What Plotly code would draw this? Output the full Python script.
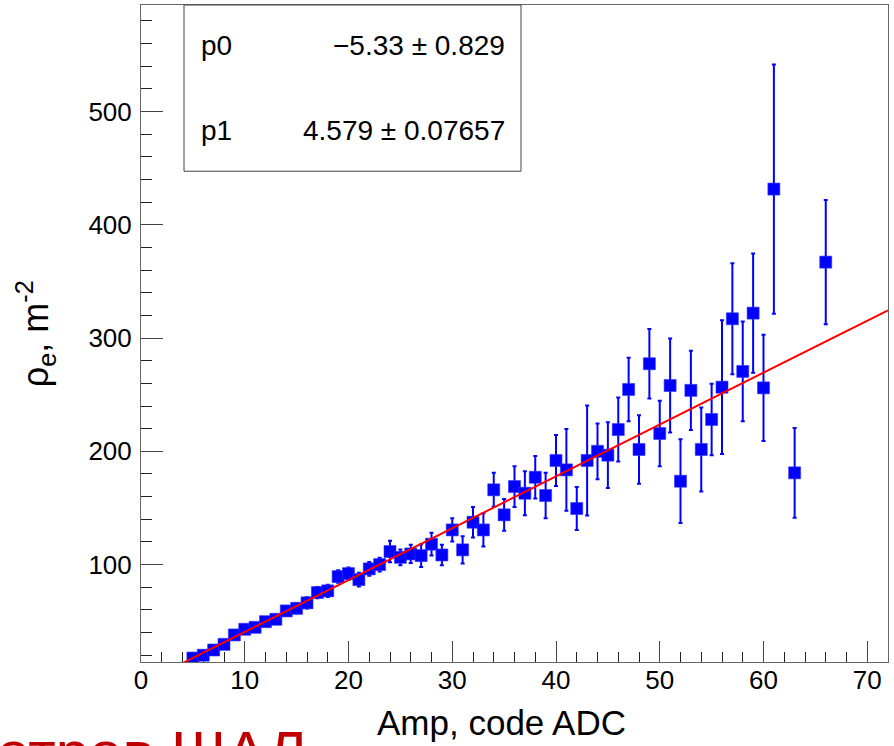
import plotly.graph_objects as go

# Data
amp = [5, 6, 7, 8, 9, 10, 11, 12, 13, 14, 15, 16, 17, 18, 19, 20, 21, 22, 23,
       24, 25, 26, 27, 28, 29, 30, 31, 32, 33, 34, 35, 36, 37, 38, 39, 40, 41,
       42, 43, 44, 45, 46, 47, 48, 49, 50, 51, 52, 53, 54, 55, 56, 57, 58, 59,
       60, 61, 63, 66]
rho = [17.5, 20, 24.6, 29.6, 37.9, 42.9, 44.6, 49.6, 51.7, 59.1, 61.4, 66.2,
       75.3, 76.8, 89.4, 92.0, 86.7, 96.2, 100, 111.5, 106.4, 109.4, 107.9,
       118, 108.5, 130.6, 113, 137.4, 130.6, 166, 143.9, 168.9, 163, 177.1,
       161, 191.9, 183.6, 149.5, 191.9, 200, 196.6, 219.2, 254.6, 201.6, 277.3,
       215.7, 258.1, 173.6, 253.8, 201.6, 228.1, 256.6, 317, 270.5, 322, 256,
       431.5, 181, 367]
rho_err = [2, 2, 2.5, 3, 3, 3.5, 3.5, 4, 4, 4, 4.5, 5, 5, 5.5, 5.5, 5.5, 6,
           6, 6, 9.5, 7, 8, 10, 10, 9, 10.3, 12, 13.5, 14.7, 15, 14, 18, 19.5,
           18.7, 20, 22.5, 36, 19, 48.6, 24.6, 29, 28.3, 28, 30.3, 30.6, 29,
           41.5, 37, 35, 37, 31.5, 59, 49, 44, 52.7, 47, 110, 39.6, 54.8]

# Fit parameters (pol1)
p0, p0_err = -5.33, 0.829
p1, p1_err = 4.579, 0.07657
fit_x = [4, 72]

x_range = [0, 72]
y_range = [14, 594]

FONT = "Liberation Sans, Arial, Helvetica, sans-serif"

fig = go.Figure()

fig.add_trace(go.Scatter(
    x=amp, y=rho, mode="markers",
    marker=dict(symbol="square", size=12, color="#0000ff",
                line=dict(color="#3333ff", width=0.6)),
    error_y=dict(type="data", array=rho_err, visible=True,
                 color="#0000ff", thickness=2, width=2),
    showlegend=False, hoverinfo="x+y",
))

fig.add_trace(go.Scatter(
    x=fit_x, y=[p0 + p1 * xv for xv in fit_x], mode="lines",
    line=dict(color="#ff0000", width=2), showlegend=False,
))

axis_common = dict(
    showgrid=False, zeroline=False, showline=True, mirror=True,
    linecolor="#666666", linewidth=1, automargin=False,
    ticks="inside", tickcolor="#444444", tickwidth=1,
    tickfont=dict(family=FONT, size=26, color="#000000"),
)

fig.update_xaxes(
    range=x_range, tick0=0, dtick=10, ticklen=21,
    minor=dict(dtick=2, ticklen=10, ticks="inside", tickcolor="#222222"),
    ticklabelstandoff=-5,
    **axis_common,
)
fig.update_yaxes(
    range=y_range, tick0=0, dtick=100, ticklen=22,
    minor=dict(dtick=20, ticklen=11, ticks="inside", tickcolor="#222222"),
    ticklabelstandoff=3,
    **axis_common,
)

# Axis titles
fig.add_annotation(xref="paper", yref="paper", x=0.4826, y=-0.0914,
                   text="Amp, code ADC", showarrow=False,
                   xanchor="center", yanchor="middle",
                   font=dict(family=FONT, size=35, color="#000"))
fig.add_annotation(xref="paper", yref="paper", x=-0.141, y=0.5,
                   text="ρ<sub>e</sub>, m<sup>-2</sup>", showarrow=False,
                   textangle=-90, xanchor="center", yanchor="middle",
                   font=dict(family=FONT, size=36, color="#000"))

# Stats box
fig.add_shape(type="rect", xref="paper", yref="paper",
              x0=0.0576, x1=0.5087, y0=0.747, y1=1.0,
              line=dict(color="#444444", width=1), fillcolor="white", layer="above")

box_font = dict(family=FONT, size=28, color="#000000")
fig.add_annotation(xref="paper", yref="paper", x=0.0777, y=0.939,
                   text="p0", showarrow=False, xanchor="left", yanchor="middle", font=box_font)
fig.add_annotation(xref="paper", yref="paper", x=0.490, y=0.939,
                   text=f"\u2212{abs(p0):.2f} \u00b1 {p0_err}", showarrow=False,
                   xanchor="right", yanchor="middle", font=box_font)
fig.add_annotation(xref="paper", yref="paper", x=0.0777, y=0.809,
                   text="p1", showarrow=False, xanchor="left", yanchor="middle", font=box_font)
fig.add_annotation(xref="paper", yref="paper", x=0.490, y=0.809,
                   text=f"{p1} \u00b1 {p1_err}", showarrow=False,
                   xanchor="right", yanchor="middle", font=box_font)

# Partially visible slide caption at bottom left
fig.add_annotation(xref="paper", yref="paper", x=0.2249, y=-0.0837,
                   text="параметров ШАЛ", showarrow=False,
                   xanchor="right", yanchor="top",
                   font=dict(family=FONT, size=60, color="#c00000"))

fig.update_layout(
    width=894, height=746,
    margin=dict(l=141, r=6, t=5, b=84),
    paper_bgcolor="white", plot_bgcolor="white",
    font=dict(family=FONT),
)

fig.write_html("out.html", config={"displayModeBar": False},
               post_script="document.body.style.margin='0';")
